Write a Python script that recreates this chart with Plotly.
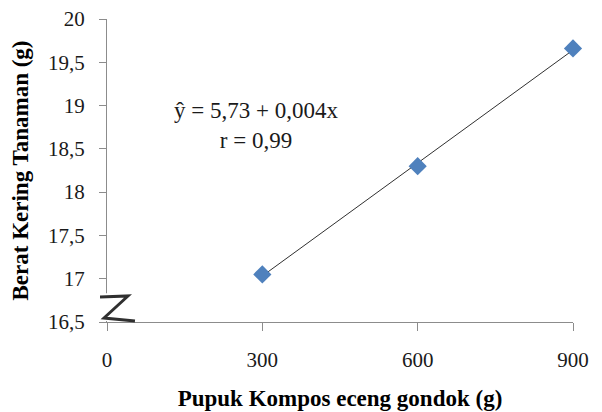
import numpy as np
import plotly.graph_objects as go

x_vals = [300, 600, 900]
y_vals = [17.05, 18.3, 19.66]
x_ticks = [0, 300, 600, 900]
y_ticks = [16.5, 17, 17.5, 18, 18.5, 19, 19.5, 20]
eq_text = "ŷ = 5,73 + 0,004x<br>r = 0,99"

slope, intercept = np.polyfit(x_vals, y_vals, 1)
trend_x = [x_vals[0], x_vals[-1]]
trend_y = [intercept + slope * v for v in trend_x]

font = "Liberation Serif"
fig = go.Figure()
fig.add_trace(go.Scatter(x=trend_x, y=trend_y, mode="lines",
                         line=dict(color="#303030", width=1), showlegend=False))
fig.add_trace(go.Scatter(x=x_vals, y=y_vals, mode="markers",
                         marker=dict(symbol="diamond", size=14, color="#4F81BD",
                                     line=dict(width=0)),
                         showlegend=False, cliponaxis=False))

# page body has an 8px default margin, so the figure is offset by (8, 8)
fig.update_layout(
    width=594, height=404,
    margin=dict(l=99, r=29, t=11, b=90, autoexpand=False),
    plot_bgcolor="white", paper_bgcolor="white",
    separators=",.",
    font=dict(family=font, size=21, color="#1a1a1a"),
    showlegend=False,
    xaxis=dict(range=[0, 900], tickvals=x_ticks, showgrid=False, zeroline=False,
               showline=True, linecolor="#8c8c8c", linewidth=1, automargin=False,
               ticks="outside", ticklen=8, tickcolor="#8c8c8c",
               tickfont=dict(size=21, family=font), ticklabelstandoff=11,
               ticklabeloverflow="allow",
               title=dict(text="<b>Pupuk Kompos eceng gondok (g)</b>",
                          font=dict(size=23, color="#000000", family=font), standoff=18)),
    yaxis=dict(range=[16.5, 20], tickvals=y_ticks, showgrid=False, zeroline=False,
               showline=True, linecolor="#8c8c8c", linewidth=1, automargin=False,
               ticks="outside", ticklen=7, tickcolor="#8c8c8c",
               tickfont=dict(size=21, family=font), ticklabelstandoff=10,
               ticklabeloverflow="allow",
               title=dict(text="<b>Berat Kering Tanaman (g)</b>",
                          font=dict(size=23, color="#000000", family=font), standoff=12)),
)

fig.add_annotation(text=eq_text, xref="paper", yref="paper",
                   x=(256 - 107) / 466, y=(322 - 125) / 303,
                   xanchor="center", yanchor="middle",
                   showarrow=False, align="center",
                   font=dict(size=23, family=font, color="#1a1a1a"))

# axis break mask and "Z" symbol
fig.add_shape(type="rect", xref="paper", yref="paper",
              x0=-0.004, x1=0.065, y0=0.003, y1=0.095,
              fillcolor="white", line=dict(width=0), layer="above")
fig.add_shape(type="path", xref="paper", yref="paper",
              path="M -0.015,0.0825 L 0.045,0.0858 L -0.0064,0.0132 L 0.060,0.0033",
              line=dict(color="#303030", width=3), layer="above")

fig.write_html("out.html")
